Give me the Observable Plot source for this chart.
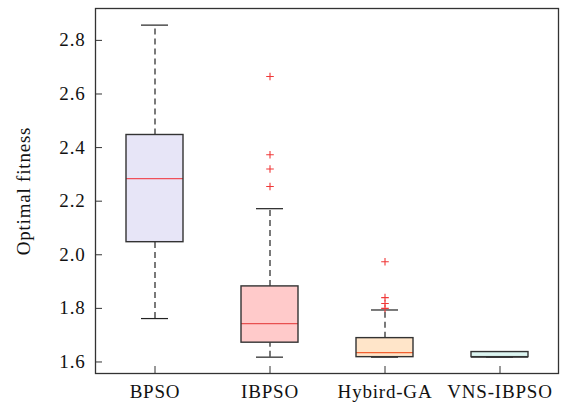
<!DOCTYPE html>
<html>
<head>
<meta charset="utf-8">
<script src="https://cdn.jsdelivr.net/npm/d3@7"></script>
<script src="https://cdn.jsdelivr.net/npm/@observablehq/plot@0.6"></script>
<style>
  html, body { margin: 0; padding: 0; background: #fff; }
  svg text { font-family: "Liberation Serif", "Times New Roman", serif; letter-spacing: 0.8px; }
</style>
</head>
<body>
<div id="chart"></div>
<script>
const categories = ["BPSO", "IBPSO", "Hybird-GA", "VNS-IBPSO"];
const lowerWhisker = [1.762, 1.618, 1.618, 1.618];
const q1 = [2.047, 1.672, 1.618, 1.618];
const median = [2.284, 1.743, 1.635, 1.618];
const q3 = [2.447, 1.882, 1.689, 1.637];
const upperWhisker = [2.857, 2.172, 1.794, 1.637];
const boxFill = ["#e7e5f7", "#ffcaca", "#ffe5c9", "#dcf5f1"];
const medianColor = ["#f0505a", "#e85050", "#f26030", "#333333"];
const outlierGroup = ["IBPSO", "IBPSO", "IBPSO", "IBPSO", "Hybird-GA", "Hybird-GA", "Hybird-GA", "Hybird-GA"];
const outlierValue = [2.665, 2.373, 2.320, 2.255, 1.974, 1.840, 1.818, 1.800];
const yTicks = [1.6, 1.8, 2.0, 2.2, 2.4, 2.6, 2.8];

const boxes = categories.map((c, i) => ({
  cat: c, lo: lowerWhisker[i], q1: q1[i], med: median[i], q3: q3[i], hi: upperWhisker[i],
  fill: boxFill[i], mc: medianColor[i]
}));
const outliers = outlierGroup.map((g, i) => ({cat: g, v: outlierValue[i]}));

const plusSymbol = {
  draw(context, size) {
    const r = Math.sqrt(size / Math.PI);
    context.moveTo(-r, 0); context.lineTo(r, 0);
    context.moveTo(0, -r); context.lineTo(0, r);
  }
};

const chart = Plot.plot({
  width: 566,
  height: 404,
  marginLeft: 95,
  marginRight: 8,
  marginTop: 8,
  marginBottom: 31,
  style: {fontFamily: "'Liberation Serif', 'Times New Roman', serif", fontSize: "19px", color: "#111", background: "#fff"},
  x: {domain: categories, padding: 0, label: null},
  y: {domain: [1.557, 2.919], label: null},
  marks: [
    // whiskers
    Plot.ruleX(boxes, {x: "cat", y1: "q3", y2: "hi", stroke: "#222", strokeWidth: 1.2, strokeDasharray: "6,4"}),
    Plot.ruleX(boxes, {x: "cat", y1: "lo", y2: "q1", stroke: "#222", strokeWidth: 1.2, strokeDasharray: "6,4"}),
    Plot.tickY(boxes, {x: "cat", y: "hi", stroke: "#222", strokeWidth: 1.2, insetLeft: 44, insetRight: 44}),
    Plot.tickY(boxes, {x: "cat", y: "lo", stroke: "#222", strokeWidth: 1.2, insetLeft: 44, insetRight: 44}),
    // box fill
    Plot.barY(boxes, {x: "cat", y1: "q1", y2: "q3", fill: "fill", insetLeft: 29, insetRight: 29}),
    // medians
    Plot.tickY(boxes, {x: "cat", y: "med", stroke: "mc", strokeWidth: 1.3, insetLeft: 29, insetRight: 29}),
    // box outline
    Plot.barY(boxes, {x: "cat", y1: "q1", y2: "q3", fill: "none", stroke: "#333", strokeWidth: 1.4, insetLeft: 29, insetRight: 29}),
    // outliers
    Plot.dot(outliers, {x: "cat", y: "v", symbol: plusSymbol, r: 3.8, stroke: "#f03838", strokeWidth: 1.1, fill: "none"}),
    Plot.frame({stroke: "#333", strokeWidth: 1.3}),
    Plot.axisY(yTicks, {tickSize: -7, tickPadding: 17, tickFormat: d3.format(".1f"), fontSize: 19, stroke: "#333", color: "#111"}),
    Plot.axisX({tickSize: -7, tickPadding: 18, fontSize: 19, stroke: "#333", color: "#111"}),
    Plot.text(["Optimal fitness"], {frameAnchor: "left", dx: -72, rotate: -90, textAnchor: "middle", fontSize: 19, fill: "#111"})
  ]
});
document.getElementById("chart").appendChild(chart);
</script>
</body>
</html>
